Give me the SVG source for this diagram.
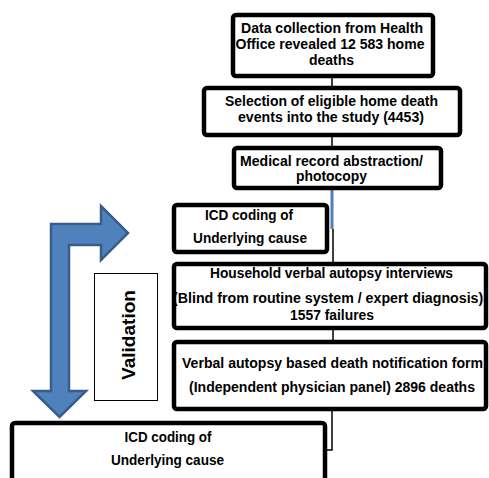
<svg xmlns="http://www.w3.org/2000/svg" width="489" height="478" viewBox="0 0 489 478">
<defs>
<style>
.box{fill:#fff;stroke:#000;stroke-width:4.5}
.t{font-family:"Liberation Sans",Arial,sans-serif;font-weight:bold;font-size:14px;fill:#000;text-anchor:middle}
.ln{stroke:#000;stroke-width:1.5;fill:none}
</style>
</defs>
<rect width="489" height="478" fill="#fff"/>
<g id="connectors">
<path class="ln" d="M332 76V88M332 135V148"/>
<line x1="332" y1="188" x2="332" y2="229" stroke="#4F81BD" stroke-width="3"/>
<path class="ln" d="M333 229V264M333 328V342M332 409V450H326"/>
</g>
<g id="arrow">
<path d="M51 224H101V206L128 233L101 260V245H69V391H86L59.5 417L33 391H51Z" fill="#4F81BD" stroke="#385D8A" stroke-width="2.5" stroke-linejoin="miter"/>
</g>
<g id="n1">
<rect class="box" x="233" y="15" width="200" height="61" rx="3"/>
<text class="t" x="332" y="33" textLength="182" lengthAdjust="spacingAndGlyphs">Data collection from Health</text>
<text class="t" x="330" y="49" textLength="189" lengthAdjust="spacingAndGlyphs">Office revealed  12 583 home</text>
<text class="t" x="331.5" y="65" textLength="45" lengthAdjust="spacingAndGlyphs">deaths</text>
</g>
<g id="n2">
<rect class="box" x="204" y="88" width="256" height="47" rx="3"/>
<text class="t" x="331.5" y="106" textLength="213" lengthAdjust="spacingAndGlyphs">Selection of eligible home death</text>
<text class="t" x="331" y="122" textLength="186" lengthAdjust="spacingAndGlyphs">events into the study (4453)</text>
</g>
<g id="n3">
<rect class="box" x="234" y="148" width="207" height="40" rx="3"/>
<text class="t" x="331.5" y="166" textLength="183" lengthAdjust="spacingAndGlyphs">Medical record abstraction/</text>
<text class="t" x="331.5" y="181" textLength="71" lengthAdjust="spacingAndGlyphs">photocopy</text>
</g>
<g id="n4">
<rect class="box" x="174" y="205" width="153" height="47" rx="3"/>
<text class="t" x="249" y="220" textLength="88" lengthAdjust="spacingAndGlyphs">ICD coding of</text>
<text class="t" x="250" y="243" textLength="114" lengthAdjust="spacingAndGlyphs">Underlying cause</text>
</g>
<g id="n5">
<rect class="box" x="174" y="264" width="312" height="64" rx="3"/>
<text class="t" x="331.5" y="278" textLength="243" lengthAdjust="spacingAndGlyphs">Household verbal autopsy interviews</text>
<text class="t" x="330.5" y="303" textLength="315" lengthAdjust="spacingAndGlyphs">(Blind from routine system / expert diagnosis):</text>
<text class="t" x="332" y="320" textLength="84" lengthAdjust="spacingAndGlyphs">1557 failures</text>
</g>
<g id="n6">
<rect class="box" x="174" y="342" width="312" height="67" rx="3"/>
<text class="t" x="332.5" y="368" textLength="301" lengthAdjust="spacingAndGlyphs">Verbal autopsy based death notification form</text>
<text class="t" x="332" y="392" textLength="286" lengthAdjust="spacingAndGlyphs">(Independent physician panel) 2896 deaths</text>
</g>
<g id="n7">
<rect class="box" x="12" y="423" width="313" height="62" rx="3"/>
<text class="t" x="168" y="442" textLength="87" lengthAdjust="spacingAndGlyphs">ICD coding of</text>
<text class="t" x="167.5" y="465" textLength="113" lengthAdjust="spacingAndGlyphs">Underlying cause</text>
</g>
<g id="validation">
<rect x="94.5" y="273.5" width="63" height="127" fill="#fff" stroke="#000" stroke-width="1"/>
<text class="t" transform="translate(135 335) rotate(-90)" x="0" y="0" style="font-size:19px" textLength="90" lengthAdjust="spacingAndGlyphs">Validation</text>
</g>
</svg>
